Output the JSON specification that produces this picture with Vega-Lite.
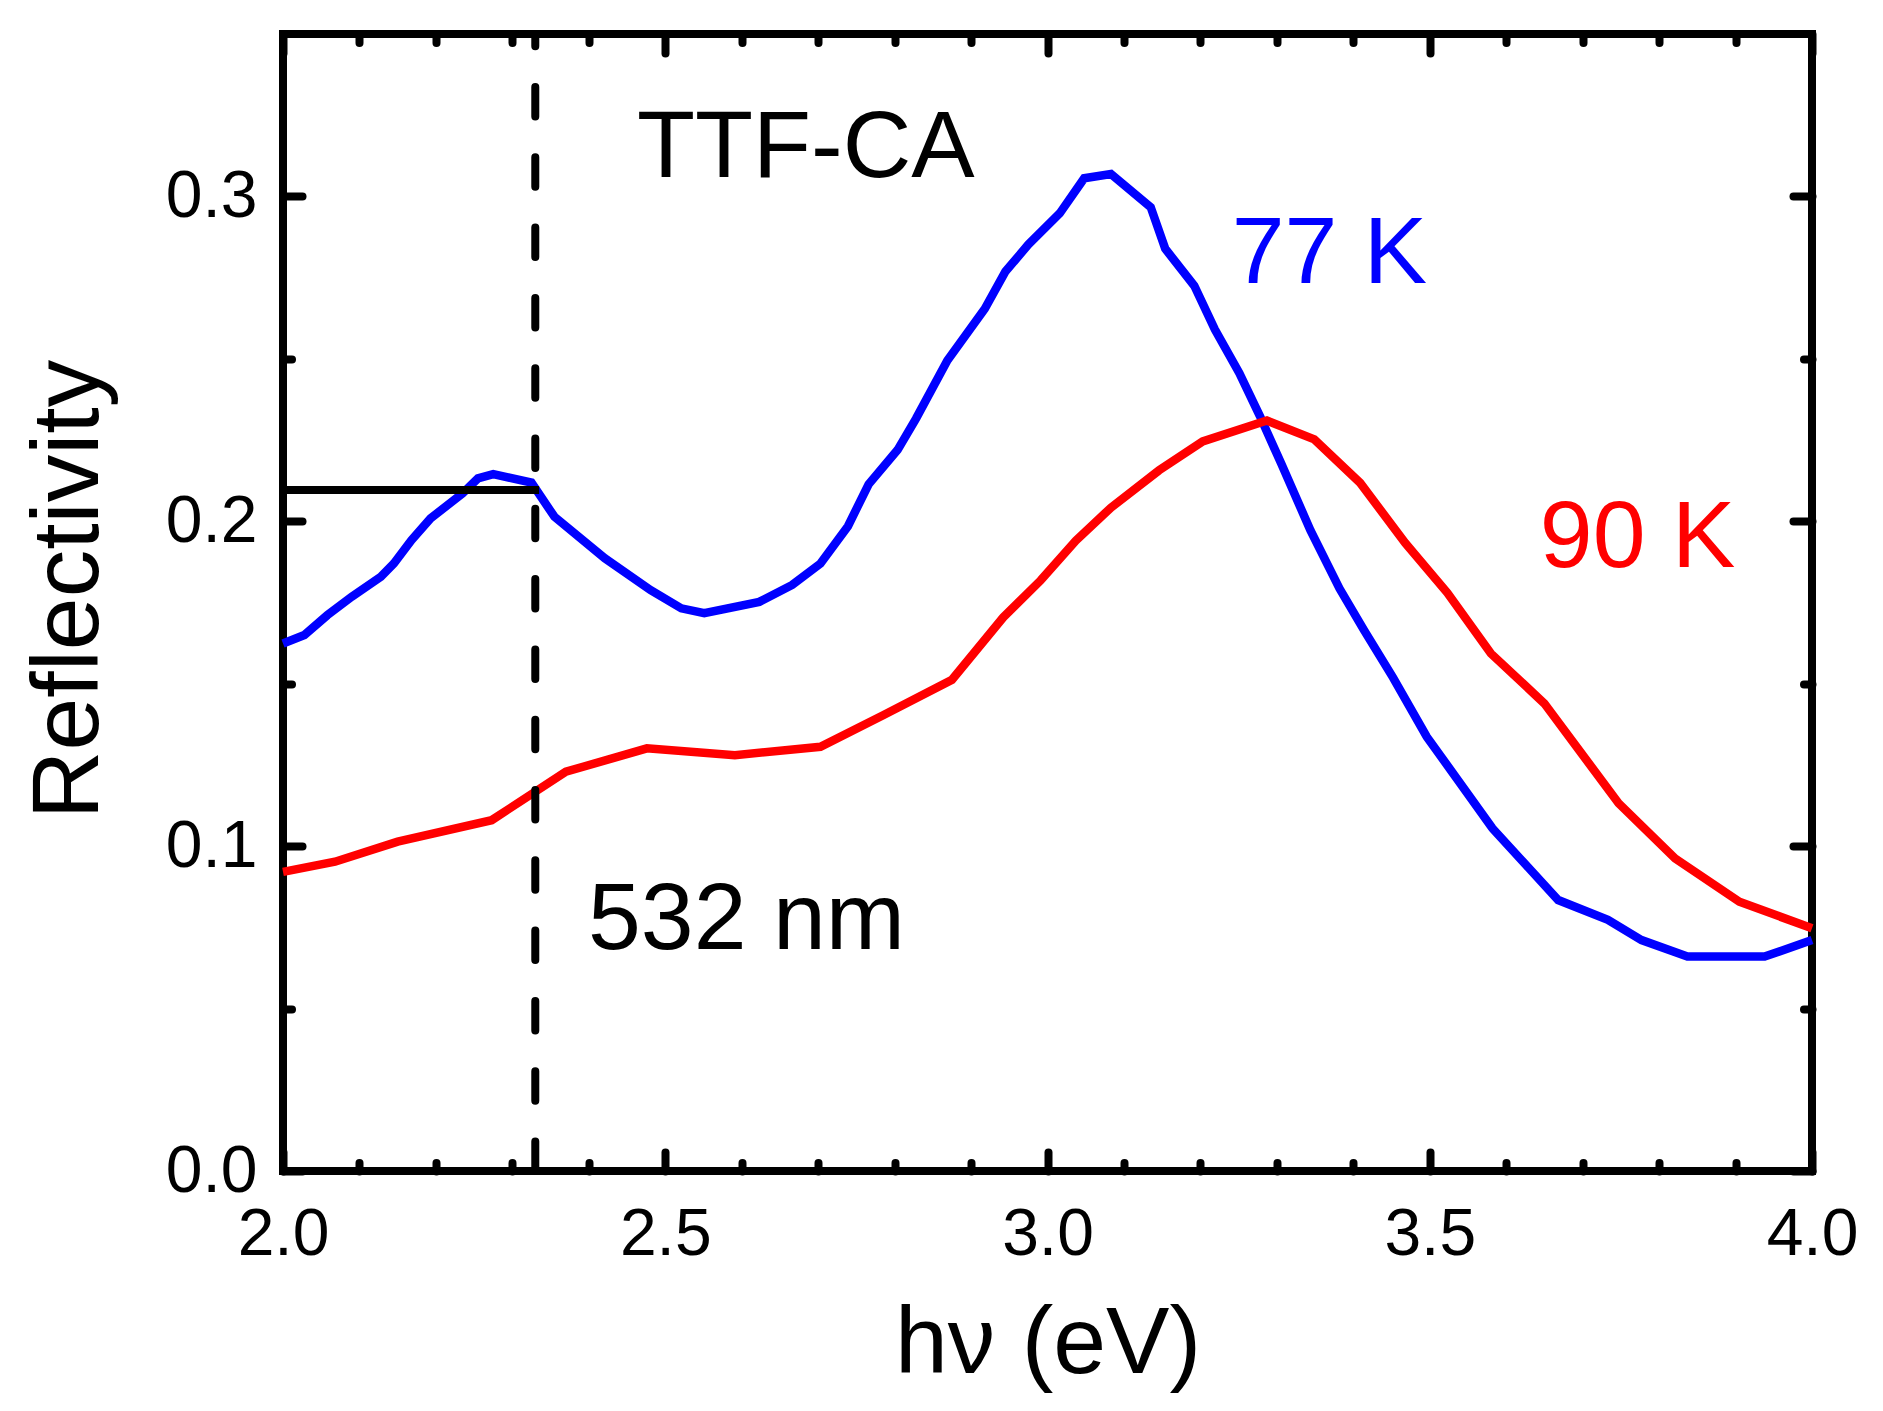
{
  "$schema": "https://vega.github.io/schema/vega-lite/v6.json",
  "width": 1529,
  "height": 1137,
  "autosize": {"type": "none"},
  "padding": {"left": 283, "top": 34, "right": 71, "bottom": 240},
  "background": "white",
  "config": {
    "view": {"stroke": "black", "strokeWidth": 8},
    "font": "Liberation Sans",
    "axis": {
      "grid": false,
      "domain": false,
      "labelFont": "Liberation Sans",
      "titleFont": "Liberation Sans",
      "labelFontSize": 66,
      "titleFontSize": 95,
      "titleFontWeight": "normal",
      "labelColor": "black",
      "titleColor": "black",
      "tickColor": "black",
      "tickWidth": 8,
      "tickCap": "round",
      "labelFlush": false,
      "labelOverlap": false,
      "labelBound": false
    }
  },
  "datasets": {
    "blue": [
      {"hv": 2.0, "R": 0.1624}, {"hv": 2.028, "R": 0.165}, {"hv": 2.058, "R": 0.1711},
      {"hv": 2.09, "R": 0.1768}, {"hv": 2.128, "R": 0.1829}, {"hv": 2.145, "R": 0.187},
      {"hv": 2.168, "R": 0.1942}, {"hv": 2.193, "R": 0.2009}, {"hv": 2.235, "R": 0.2086},
      {"hv": 2.255, "R": 0.2132}, {"hv": 2.275, "R": 0.2145}, {"hv": 2.325, "R": 0.2119},
      {"hv": 2.355, "R": 0.2014}, {"hv": 2.421, "R": 0.1886}, {"hv": 2.481, "R": 0.1788},
      {"hv": 2.521, "R": 0.1732}, {"hv": 2.551, "R": 0.1717}, {"hv": 2.623, "R": 0.1752},
      {"hv": 2.666, "R": 0.1804}, {"hv": 2.703, "R": 0.187}, {"hv": 2.739, "R": 0.1985},
      {"hv": 2.766, "R": 0.2114}, {"hv": 2.804, "R": 0.222}, {"hv": 2.828, "R": 0.2316},
      {"hv": 2.869, "R": 0.2495}, {"hv": 2.918, "R": 0.2654}, {"hv": 2.945, "R": 0.2769},
      {"hv": 2.975, "R": 0.2852}, {"hv": 3.016, "R": 0.2948}, {"hv": 3.048, "R": 0.3056},
      {"hv": 3.083, "R": 0.3069}, {"hv": 3.135, "R": 0.2967}, {"hv": 3.154, "R": 0.2839},
      {"hv": 3.192, "R": 0.2725}, {"hv": 3.219, "R": 0.259}, {"hv": 3.251, "R": 0.2456},
      {"hv": 3.278, "R": 0.2323}, {"hv": 3.306, "R": 0.2176}, {"hv": 3.344, "R": 0.1972},
      {"hv": 3.382, "R": 0.1793}, {"hv": 3.414, "R": 0.1665}, {"hv": 3.452, "R": 0.1519},
      {"hv": 3.496, "R": 0.1337}, {"hv": 3.54, "R": 0.1193}, {"hv": 3.582, "R": 0.1055},
      {"hv": 3.668, "R": 0.0834}, {"hv": 3.733, "R": 0.0773}, {"hv": 3.777, "R": 0.0711},
      {"hv": 3.837, "R": 0.066}, {"hv": 3.938, "R": 0.066}, {"hv": 4.0, "R": 0.0711}
    ],
    "red": [
      {"hv": 2.0, "R": 0.0921}, {"hv": 2.068, "R": 0.0952}, {"hv": 2.15, "R": 0.1014},
      {"hv": 2.273, "R": 0.108}, {"hv": 2.37, "R": 0.1229}, {"hv": 2.476, "R": 0.1301},
      {"hv": 2.591, "R": 0.128}, {"hv": 2.703, "R": 0.1306}, {"hv": 2.785, "R": 0.1403},
      {"hv": 2.875, "R": 0.1512}, {"hv": 2.942, "R": 0.1704}, {"hv": 2.991, "R": 0.1818},
      {"hv": 3.037, "R": 0.194}, {"hv": 3.083, "R": 0.2042}, {"hv": 3.146, "R": 0.2157},
      {"hv": 3.203, "R": 0.2246}, {"hv": 3.287, "R": 0.231}, {"hv": 3.349, "R": 0.2252},
      {"hv": 3.409, "R": 0.2118}, {"hv": 3.468, "R": 0.1933}, {"hv": 3.523, "R": 0.178},
      {"hv": 3.58, "R": 0.1593}, {"hv": 3.65, "R": 0.1439}, {"hv": 3.747, "R": 0.1132},
      {"hv": 3.821, "R": 0.0962}, {"hv": 3.905, "R": 0.0829}, {"hv": 4.0, "R": 0.0747}
    ],
    "hline": [{"hv": 2.0, "hv2": 2.335, "R": 0.2096}],
    "vline": [{"hv": 2.33, "R": 0.0, "R2": 0.35}],
    "labels": [
      {"hv": 2.463, "R": 0.306, "label": "TTF-CA"},
      {"hv": 3.241, "R": 0.2735, "label": "77 K"},
      {"hv": 3.644, "R": 0.1858, "label": "90 K"},
      {"hv": 2.399, "R": 0.0682, "label": "532 nm"}
    ]
  },
  "resolve": {"axis": {"x": "independent", "y": "independent"}},
  "layer": [
    {
      "data": {"name": "blue"},
      "mark": {"type": "line", "color": "#0000FF", "strokeWidth": 8.5},
      "encoding": {
        "x": {"field": "hv", "type": "quantitative",
          "scale": {"domain": [2, 4], "nice": false, "zero": false},
          "axis": {"orient": "bottom", "title": "hν (eV)", "values": [2, 2.5, 3, 3.5, 4], "format": ".1f",
            "ticks": false, "labelPadding": 31, "titleX": 764.5, "titleY": 201,
            "titleBaseline": "alphabetic", "titleAlign": "center"}},
        "y": {"field": "R", "type": "quantitative",
          "scale": {"domain": [0, 0.35], "nice": false, "zero": false},
          "axis": {"orient": "left", "title": "Reflectivity", "values": [0, 0.1, 0.2, 0.3], "format": ".1f",
            "ticks": false, "labelPadding": 26, "titleX": -186, "titleY": 555, "titleAngle": -90,
            "titleBaseline": "alphabetic", "titleAlign": "center"}}
      }
    },
    {
      "data": {"name": "red"},
      "mark": {"type": "line", "color": "#FF0000", "strokeWidth": 8.5},
      "encoding": {
        "x": {"field": "hv", "type": "quantitative",
          "scale": {"domain": [2, 4], "nice": false, "zero": false},
          "axis": {"orient": "bottom", "title": null, "labels": false, "values": [2, 2.5, 3, 3.5, 4], "tickSize": -19}},
        "y": {"field": "R", "type": "quantitative",
          "scale": {"domain": [0, 0.35], "nice": false, "zero": false},
          "axis": {"orient": "left", "title": null, "labels": false, "values": [0, 0.1, 0.2, 0.3], "tickSize": -19}}
      }
    },
    {
      "data": {"name": "hline"},
      "mark": {"type": "rule", "color": "black", "strokeWidth": 8},
      "encoding": {
        "x": {"field": "hv", "type": "quantitative",
          "scale": {"domain": [2, 4], "nice": false, "zero": false},
          "axis": {"orient": "bottom", "title": null, "labels": false,
            "values": [2.1, 2.2, 2.3, 2.4, 2.6, 2.7, 2.8, 2.9, 3.1, 3.2, 3.3, 3.4, 3.6, 3.7, 3.8, 3.9], "tickSize": -8.5}},
        "x2": {"field": "hv2"},
        "y": {"field": "R", "type": "quantitative",
          "scale": {"domain": [0, 0.35], "nice": false, "zero": false},
          "axis": {"orient": "left", "title": null, "labels": false, "values": [0.05, 0.15, 0.25], "tickSize": -8.5}}
      }
    },
    {
      "data": {"name": "vline"},
      "mark": {"type": "rule", "color": "black", "strokeWidth": 8, "strokeDash": [29.5, 40.8], "strokeCap": "round"},
      "encoding": {
        "x": {"field": "hv", "type": "quantitative",
          "scale": {"domain": [2, 4], "nice": false, "zero": false},
          "axis": {"orient": "top", "title": null, "labels": false, "values": [2, 2.5, 3, 3.5, 4], "tickSize": -19}},
        "y": {"field": "R", "type": "quantitative",
          "scale": {"domain": [0, 0.35], "nice": false, "zero": false},
          "axis": {"orient": "right", "title": null, "labels": false, "values": [0, 0.1, 0.2, 0.3], "tickSize": -19}},
        "y2": {"field": "R2"}
      }
    },
    {
      "data": {"name": "labels"},
      "mark": {"type": "text", "align": "left", "baseline": "alphabetic", "fontSize": 95, "font": "Liberation Sans"},
      "encoding": {
        "x": {"field": "hv", "type": "quantitative",
          "scale": {"domain": [2, 4], "nice": false, "zero": false},
          "axis": {"orient": "top", "title": null, "labels": false,
            "values": [2.1, 2.2, 2.3, 2.4, 2.6, 2.7, 2.8, 2.9, 3.1, 3.2, 3.3, 3.4, 3.6, 3.7, 3.8, 3.9], "tickSize": -8.5}},
        "y": {"field": "R", "type": "quantitative",
          "scale": {"domain": [0, 0.35], "nice": false, "zero": false},
          "axis": {"orient": "right", "title": null, "labels": false, "values": [0.05, 0.15, 0.25], "tickSize": -8.5}},
        "text": {"field": "label"},
        "color": {"field": "label", "type": "nominal",
          "scale": {"domain": ["TTF-CA", "77 K", "90 K", "532 nm"], "range": ["black", "#0000FF", "#FF0000", "black"]},
          "legend": null}
      }
    }
  ]
}
